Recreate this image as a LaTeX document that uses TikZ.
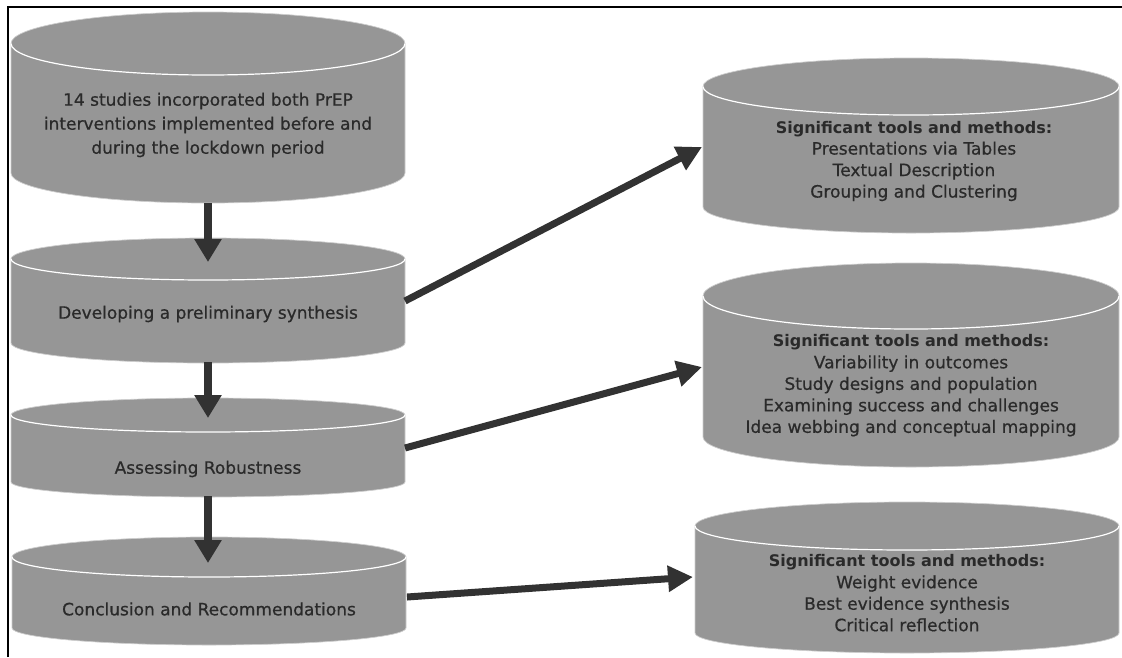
\documentclass[tikz,border=0pt]{standalone}
\usepackage{fontspec}
\setmainfont{DejaVu Sans}[UprightFeatures={FakeBold=0.6}]
\usetikzlibrary{arrows.meta}
\definecolor{cylfill}{RGB}{150,150,150}
\definecolor{cyledge}{RGB}{205,205,205}
\definecolor{txt}{RGB}{42,42,42}
\definecolor{arr}{RGB}{50,50,50}
% cx rx yt ryt yb ryb  (pixel coordinates, y downward)
\newcommand{\drawcyl}[6]{%
  \filldraw[fill=cylfill, draw=cyledge, line width=0.7pt]
    ({#1-#2},#3) -- ({#1-#2},#5)
    arc[start angle=180,end angle=0,x radius=#2,y radius=#6]
    -- ({#1+#2},#3)
    arc[start angle=0,end angle=-180,x radius=#2,y radius=#4] -- cycle;
  \draw[white, line width=1.2pt] ({#1-#2},#3)
    arc[start angle=180,end angle=0,x radius=#2,y radius=#4];
}
\tikzset{
  lbl/.style={font=\fontsize{17}{24}\selectfont, text=txt, align=center, inner sep=0pt},
  tbox/.style={font=\fontsize{17}{21.5}\selectfont, text=txt, align=center, inner sep=0pt},
  vflow/.style={draw=arr, line width=8pt, -{Triangle[width=26pt,length=23pt]}},
  dflow/.style={draw=arr, line width=7pt, -{Triangle[width=25pt,length=25pt]}},
}
\newcommand{\hd}[1]{{\bfseries\fontsize{16}{21.5}\selectfont #1}}
\begin{document}
\begin{tikzpicture}[x=1pt, y=-1pt]
\useasboundingbox (0,0) rectangle (1122,657);
% frame
\draw[black, line width=2.2pt] (8,657) -- (8,7) -- (1122,7);
% left cylinders
\drawcyl{208}{197}{43.5}{31.5}{173}{30}
\drawcyl{208}{197}{259}{21}{343}{20}
\drawcyl{208}{197}{415}{17}{482}{15}
\drawcyl{209}{197}{557}{20}{628}{17}
% right cylinders
\drawcyl{911}{208}{86.5}{28.5}{207}{26}
\drawcyl{911}{208}{296}{33}{437}{30}
\drawcyl{907}{212}{526}{24}{633}{20}
% texts
\node[lbl] (c1) at (208,125) {14 studies incorporated both PrEP\\interventions implemented before and\\during the lockdown period};
\node[lbl] (c2) at (208,314) {Developing a preliminary synthesis};
\node[lbl] (c3) at (208,469) {Assessing Robustness};
\node[lbl] (c4) at (209,609) {Conclusion and Recommendations};
\node[tbox] (r1) at (914,161) {\hd{Significant tools and methods:}\\Presentations via Tables\\Textual Description\\Grouping and Clustering};
\node[tbox] (r2) at (911,385.5) {\hd{Significant tools and methods:}\\Variability in outcomes\\Study designs and population\\Examining success and challenges\\Idea webbing and conceptual mapping};
\node[tbox] (r3) at (907,593) {\hd{Significant tools and methods:}\\Weight evidence\\Best evidence synthesis\\Critical reflection};
% connector end points
\coordinate (c1out) at (208,203);
\coordinate (c2in) at (208,262);
\coordinate (c2out) at (208,362);
\coordinate (c3in) at (208,418);
\coordinate (c3out) at (208,496);
\coordinate (c4in) at (208,563);
\coordinate (c2r) at (405,301);
\coordinate (r1in) at (702,147);
\coordinate (c3r) at (405,448);
\coordinate (r2in) at (702,367);
\coordinate (c4r) at (407,597);
\coordinate (r3in) at (693,577);
% connectors
\draw[vflow] (c1out) -- (c2in);
\draw[vflow] (c2out) -- (c3in);
\draw[vflow] (c3out) -- (c4in);
\draw[dflow] (c2r) -- (r1in);
\draw[dflow] (c3r) -- (r2in);
\draw[dflow] (c4r) -- (r3in);
\end{tikzpicture}
\end{document}
